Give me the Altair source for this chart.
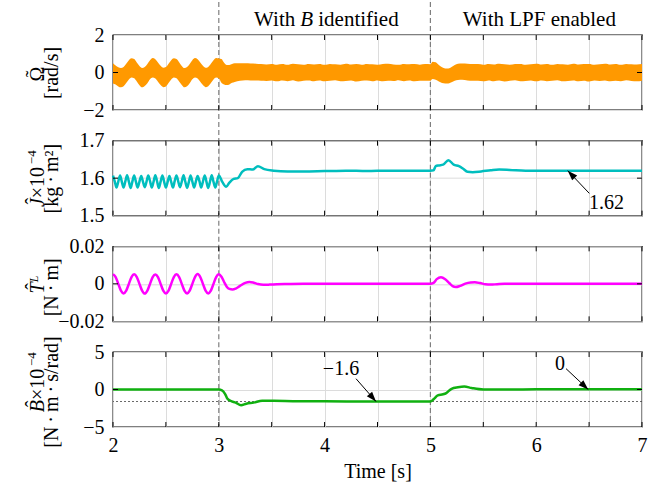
import altair as alt
import pandas as pd

FONT = "Liberation Serif"
W, H = 529, 75

# ---------------------------------------------------------------- data
x_ticks = [2, 2.5, 3, 3.5, 4, 4.5, 5, 5.5, 6, 6.5, 7]
events = [3, 5]

# 0.025 s grid over the initial oscillation (2 s .. 3 s)
t_osc = [2.000, 2.025, 2.050, 2.075, 2.100, 2.125, 2.150, 2.175,
         2.200, 2.225, 2.250, 2.275, 2.300, 2.325, 2.350, 2.375,
         2.400, 2.425, 2.450, 2.475, 2.500, 2.525, 2.550, 2.575,
         2.600, 2.625, 2.650, 2.675, 2.700, 2.725, 2.750, 2.775,
         2.800, 2.825, 2.850, 2.875, 2.900, 2.925, 2.950, 2.975, 3.000]

# speed error: upper / lower envelope of the noisy band [rad/s]
w_hi_osc = [0.50, 0.38, 0.28, 0.24, 0.30, 0.47, 0.66, 0.76,
            0.72, 0.53, 0.35, 0.24, 0.30, 0.46, 0.65, 0.77,
            0.71, 0.54, 0.36, 0.25, 0.29, 0.47, 0.66, 0.76,
            0.72, 0.55, 0.35, 0.24, 0.30, 0.46, 0.66, 0.77,
            0.71, 0.54, 0.36, 0.25, 0.30, 0.47, 0.66, 0.78, 0.75]
w_lo_osc = [-0.58, -0.64, -0.74, -0.79, -0.73, -0.56, -0.37, -0.26,
            -0.31, -0.48, -0.68, -0.79, -0.72, -0.57, -0.36, -0.27,
            -0.32, -0.49, -0.67, -0.78, -0.74, -0.56, -0.37, -0.26,
            -0.31, -0.48, -0.66, -0.79, -0.73, -0.57, -0.36, -0.26,
            -0.32, -0.49, -0.67, -0.78, -0.73, -0.56, -0.37, -0.27, -0.30]

t_w_b = [3.025, 3.050, 3.075, 3.100, 3.125, 3.150, 3.200, 3.250, 3.300, 3.350, 3.400]
w_hi_b = [0.72, 0.52, 0.40, 0.40, 0.45, 0.49, 0.50, 0.49, 0.48, 0.47, 0.45]
w_lo_b = [-0.55, -0.64, -0.67, -0.64, -0.55, -0.50, -0.44, -0.41, -0.42, -0.43, -0.44]

t_w_c = [3.45, 3.50, 3.55, 3.60, 3.65, 3.70, 3.75, 3.80, 3.85, 3.90,
         3.95, 4.00, 4.05, 4.10, 4.15, 4.20, 4.25, 4.30, 4.35, 4.40,
         4.45, 4.50, 4.55, 4.60, 4.65, 4.70, 4.75, 4.80, 4.85, 4.90,
         4.95]
w_hi_c = [0.43, 0.46, 0.42, 0.45, 0.41, 0.47, 0.44, 0.42, 0.46, 0.43,
          0.45, 0.41, 0.46, 0.44, 0.42, 0.47, 0.43, 0.45, 0.42, 0.46,
          0.44, 0.41, 0.45, 0.47, 0.43, 0.42, 0.46, 0.44, 0.45, 0.42,
          0.45]
w_lo_c = [-0.45, -0.42, -0.47, -0.43, -0.46, -0.41, -0.48, -0.44, -0.42, -0.46,
          -0.43, -0.47, -0.44, -0.41, -0.46, -0.45, -0.42, -0.48, -0.44, -0.43,
          -0.46, -0.42, -0.47, -0.44, -0.45, -0.41, -0.46, -0.43, -0.47, -0.44,
          -0.44]

t_w_d = [5.000, 5.020, 5.050, 5.080, 5.110, 5.140, 5.170, 5.200, 5.230, 5.260, 5.300, 5.350, 5.400]
w_hi_d = [0.44, 0.58, 0.55, 0.40, 0.28, 0.22, 0.22, 0.30, 0.40, 0.47, 0.48, 0.47, 0.45]
w_lo_d = [-0.44, -0.35, -0.38, -0.48, -0.56, -0.58, -0.58, -0.52, -0.44, -0.40, -0.39, -0.42, -0.44]

t_w_e = [5.45, 5.50, 5.55, 5.60, 5.65, 5.70, 5.75, 5.80, 5.85, 5.90,
         5.95, 6.00, 6.05, 6.10, 6.15, 6.20, 6.25, 6.30, 6.35, 6.40,
         6.45, 6.50, 6.55, 6.60, 6.65, 6.70, 6.75, 6.80, 6.85, 6.90,
         6.95, 7.00]
w_hi_e = [0.45, 0.42, 0.46, 0.43, 0.47, 0.44, 0.41, 0.45, 0.46, 0.42,
          0.44, 0.47, 0.43, 0.45, 0.41, 0.46, 0.44, 0.42, 0.47, 0.43,
          0.45, 0.46, 0.42, 0.44, 0.47, 0.43, 0.45, 0.41, 0.46, 0.44,
          0.43, 0.45]
w_lo_e = [-0.44, -0.47, -0.42, -0.46, -0.43, -0.48, -0.44, -0.41, -0.46, -0.45,
          -0.42, -0.47, -0.43, -0.46, -0.44, -0.41, -0.47, -0.45, -0.42, -0.46,
          -0.44, -0.48, -0.43, -0.45, -0.42, -0.47, -0.44, -0.46, -0.41, -0.45,
          -0.47, -0.44]

# inertia estimate J x 1e-4 [kg m^2]
t_j_osc = [2.000, 2.017, 2.033, 2.050, 2.067, 2.083, 2.100, 2.117, 2.133, 2.150,
           2.167, 2.183, 2.200, 2.217, 2.233, 2.250, 2.267, 2.283, 2.300, 2.317,
           2.333, 2.350, 2.367, 2.383, 2.400, 2.417, 2.433, 2.450, 2.467, 2.483,
           2.500, 2.517, 2.533, 2.550, 2.567, 2.583, 2.600, 2.617, 2.633, 2.650,
           2.667, 2.683, 2.700, 2.717, 2.733, 2.750, 2.767, 2.783, 2.800, 2.817,
           2.833, 2.850, 2.867, 2.883, 2.900, 2.917, 2.933, 2.950, 2.967, 2.983,
           3.000]
j_osc = [1.607, 1.591, 1.575, 1.591, 1.607, 1.591, 1.575, 1.592, 1.608, 1.591, 1.574, 1.591,
         1.607, 1.590, 1.575, 1.591, 1.606, 1.591, 1.576, 1.591, 1.607, 1.592, 1.575, 1.590,
         1.608, 1.591, 1.574, 1.591, 1.607, 1.591, 1.575, 1.591, 1.606, 1.590, 1.575, 1.592,
         1.607, 1.591, 1.576, 1.591, 1.608, 1.591, 1.574, 1.590, 1.607, 1.591, 1.575, 1.591,
         1.606, 1.592, 1.575, 1.591, 1.607, 1.591, 1.574, 1.591, 1.608, 1.590, 1.575, 1.591,
         1.607]
t_j_rest = [3.033, 3.07, 3.10, 3.14, 3.18, 3.22, 3.27, 3.32, 3.37, 3.43,
            3.52, 3.65, 3.80, 4.00, 4.20, 4.40, 4.60, 4.80, 5.00, 5.03,
            5.05, 5.08, 5.12, 5.17, 5.22, 5.27, 5.31, 5.35, 5.40, 5.48,
            5.57, 5.65, 5.75, 5.90, 6.10, 6.30, 6.50, 6.70, 7.00]
j_rest = [1.590, 1.577, 1.588, 1.598, 1.600, 1.617, 1.624, 1.623, 1.632, 1.624,
          1.620, 1.618, 1.618, 1.619, 1.620, 1.619, 1.620, 1.620, 1.620, 1.621,
          1.632, 1.634, 1.636, 1.648, 1.636, 1.632, 1.625, 1.617, 1.616, 1.618,
          1.621, 1.623, 1.622, 1.620, 1.620, 1.620, 1.620, 1.620, 1.620]
j_final = 1.62

# load torque estimate [N m]
tl_osc = [0.0051, 0.0036, 0.0000, -0.0036, -0.0051, -0.0036, 0.0000, 0.0036,
          0.0051, 0.0036, 0.0000, -0.0036, -0.0052, -0.0036, 0.0000, 0.0036,
          0.0050, 0.0036, 0.0000, -0.0036, -0.0051, -0.0036, 0.0000, 0.0036,
          0.0051, 0.0036, 0.0000, -0.0036, -0.0051, -0.0036, 0.0000, 0.0036,
          0.0052, 0.0036, 0.0000, -0.0036, -0.0051, -0.0036, 0.0000, 0.0036,
          0.0051]
t_tl_rest = [3.025, 3.05, 3.075, 3.1, 3.13, 3.16, 3.2, 3.25, 3.29, 3.33,
             3.37, 3.42, 3.48, 3.55, 3.65, 3.8, 4.0, 4.5, 5.0, 5.03,
             5.06, 5.1, 5.14, 5.18, 5.21, 5.24, 5.28, 5.33, 5.38, 5.42,
             5.47, 5.52, 5.57, 5.63, 5.7, 6.0, 6.5, 7.0]
tl_rest = [0.0038, 0.0010, -0.0015, -0.0027, -0.0030, -0.0025, -0.0011, 0.0005, 0.0010, 0.0006,
           -0.0001, -0.0005, -0.0004, -0.0002, -0.0001, 0.0, 0.0, 0.0, 0.0, 0.0005,
           0.0025, 0.0035, 0.0025, 0.0003, -0.0012, -0.0017, -0.0011, 0.0001, 0.0007, 0.0008,
           0.0004, -0.0002, -0.0004, -0.0002, 0.0, 0.0, 0.0, 0.0]

# friction estimate B x 1e-4 [N m s/rad]
t_b = [2.0, 2.5, 3.0, 3.03, 3.06, 3.08, 3.11, 3.16, 3.21, 3.26,
       3.33, 3.41, 3.52, 3.7, 4.0, 4.5, 5.0, 5.03, 5.07, 5.12,
       5.15, 5.2, 5.26, 5.32, 5.39, 5.5, 5.7, 6.0, 6.5, 7.0]
b_val = [0.0, 0.0, 0.0, -0.1, -0.6, -1.2, -1.5, -1.75, -2.1, -1.9,
         -1.75, -1.5, -1.5, -1.55, -1.58, -1.6, -1.6, -1.3, -0.78, -0.64,
         -0.47, 0.1, 0.3, 0.4, 0.2, 0.0, 0.0, 0.02, 0.03, 0.03]
b_ref = -1.6
b_final = 0

# ---------------------------------------------------------------- helpers
xs = alt.Scale(domain=[2, 7], nice=False, zero=False)


def x_axis(bottom):
    if bottom:
        return alt.Axis(values=x_ticks, format="~g",
                        labelExpr="datum.value % 1 === 0 ? datum.label : ''",
                        title="Time [s]", labelFlush=False, labelOverlap=False,
                        labelPadding=8, titlePadding=6)
    return alt.Axis(values=x_ticks, labels=False, title=None)


def y_axis(vals):
    return alt.Axis(values=vals, format="~g", title=None, labelPadding=9,
                    labelOverlap=False)


def fmt(v):
    return f"{v:g}".replace("-", "\u2212")


class Panel:
    """Collects the layers of one strip; every layer shares the same axes."""

    def __init__(self, ys, yvals, bottom):
        self.ys = ys
        self.xa = x_axis(bottom)
        self.ya = y_axis(yvals)
        self.layers = []

    def X(self, f):
        return alt.X(f, type="quantitative", scale=xs, axis=self.xa)

    def Y(self, f):
        return alt.Y(f, type="quantitative", scale=self.ys, axis=self.ya)

    def add(self, *ls):
        self.layers.extend(ls)

    def frame(self, rule_top, rule_bottom):
        self.add(alt.Chart(pd.DataFrame({"t": events})).mark_rule(
            color="#7f7f7f", strokeDash=[5, 3], strokeWidth=1.2
        ).encode(x=self.X("t"), y=alt.value(rule_top), y2=alt.value(rule_bottom)))

    def ticks(self, mid):
        tdf = pd.DataFrame({"t": x_ticks})
        tick = dict(color="black", strokeWidth=1)
        self.add(
            alt.Chart(tdf).mark_rule(**tick).encode(x=self.X("t"), y=alt.value(0), y2=alt.value(5)),
            alt.Chart(tdf).mark_rule(**tick).encode(x=self.X("t"), y=alt.value(H), y2=alt.value(H - 5)),
        )
        mdf = pd.DataFrame({"v": [mid]})
        self.add(
            alt.Chart(mdf).mark_rule(**tick).encode(y=self.Y("v"), x=alt.value(0), x2=alt.value(5)),
            alt.Chart(mdf).mark_rule(**tick).encode(y=self.Y("v"), x=alt.value(W), x2=alt.value(W - 5)),
        )

    def vtext(self, s, x, y, size=20, style="normal", align="center", dx=0, dy=0):
        self.add(alt.Chart(pd.DataFrame({"s": [s]})).mark_text(
            font=FONT, fontSize=size, fontStyle=style, align=align,
            baseline="alphabetic", angle=270, dx=dx, dy=dy, color="black"
        ).encode(x=alt.value(x), y=alt.value(y), text="s:N"))

    def note(self, s, t, v=None, size=20, style="normal", align="center", dx=0, ypix=None):
        enc = dict(x=self.X("t"), text="s:N")
        enc["y"] = alt.value(ypix) if ypix is not None else self.Y("v")
        self.add(alt.Chart(pd.DataFrame({"s": [s], "t": [t], "v": [v if v is not None else 0]})).mark_text(
            font=FONT, fontSize=size, fontStyle=style, align=align,
            baseline="alphabetic", dx=dx, color="black"
        ).encode(**enc))

    def arrow(self, tail, tip, angle):
        df = pd.DataFrame({"t": [tail[0]], "v": [tail[1]], "t2": [tip[0]], "v2": [tip[1]]})
        self.add(
            alt.Chart(df).mark_rule(color="black", strokeWidth=1).encode(
                x=self.X("t"), y=self.Y("v"), x2="t2:Q", y2="v2:Q"),
            alt.Chart(df).mark_point(
                shape="M0,0L0.7,2L-0.7,2Z", filled=True, size=100, color="black",
                opacity=1, strokeWidth=0, angle=angle
            ).encode(x=self.X("t2"), y=self.Y("v2")),
        )

    def chart(self):
        return alt.layer(*self.layers).properties(width=W, height=H)


# ---------------------------------------------------------------- panel 1: speed error
P1 = Panel(alt.Scale(domain=[-2, 2], nice=False, zero=False), [-2, 0, 2], False)
P1.frame(-33, H + 31)
w_df = pd.DataFrame({
    "t": t_osc + t_w_b + t_w_c + t_w_d + t_w_e,
    "hi": w_hi_osc + w_hi_b + w_hi_c + w_hi_d + w_hi_e,
    "lo": w_lo_osc + w_lo_b + w_lo_c + w_lo_d + w_lo_e,
})
P1.add(alt.Chart(w_df).mark_area(color="#FF9900", opacity=1, interpolate="monotone").encode(
    x=P1.X("t"), y=P1.Y("hi"), y2="lo:Q"))
P1.ticks(0)
P1.vtext("\u03a9", -69, 39)
P1.vtext("\u02dc", -69, 39, size=20, dy=-4)
P1.vtext("[rad/s]", -55, 38)
P1.note("With", 3.831, size=21, align="right", dx=-11.5, ypix=-9)
P1.note("B", 3.831, size=21, style="italic", ypix=-9)
P1.note("identified", 3.831, size=21, align="left", dx=11.5, ypix=-9)
P1.note("With LPF enabled", 6.03, size=21, ypix=-9)

# ---------------------------------------------------------------- panel 2: inertia
P2 = Panel(alt.Scale(domain=[1.5, 1.7], nice=False, zero=False), [1.5, 1.6, 1.7], False)
P2.frame(0, H + 31)
j_df = pd.DataFrame({"t": t_j_osc + t_j_rest, "v": j_osc + j_rest})
P2.add(alt.Chart(j_df).mark_line(color="#00BEBE", strokeWidth=2.5, interpolate="monotone").encode(
    x=P2.X("t"), y=P2.Y("v")))
P2.ticks(1.6)
P2.arrow((6.502, 1.5595), (6.298, j_final), 316)
P2.note(fmt(j_final), 6.664, 1.518)
P2.vtext("J", -69, 57.5, style="italic", align="right")
P2.vtext("\u02c6", -69, 57.5, size=20, align="center", dx=-3, dy=-4)
P2.vtext(" \u00d710", -69, 57.5, align="left")
P2.vtext("\u22124", -69, 57.5, size=13, align="left", dx=34, dy=-8)
P2.vtext("[kg\u2009\u00b7\u2009m\u00b2]", -55, 38)

# ---------------------------------------------------------------- panel 3: load torque
P3 = Panel(alt.Scale(domain=[-0.02, 0.02], nice=False, zero=False), [-0.02, 0, 0.02], False)
P3.frame(0, H + 31)
tl_df = pd.DataFrame({"t": t_osc + t_tl_rest, "v": tl_osc + tl_rest})
P3.add(alt.Chart(tl_df).mark_line(color="#FF00FF", strokeWidth=2.5, interpolate="monotone").encode(
    x=P3.X("t"), y=P3.Y("v")))
P3.ticks(0)
P3.vtext("T", -69, 36, style="italic", align="right")
P3.vtext("\u02c6", -69, 36, size=20, align="center", dx=-4, dy=-4)
P3.vtext("L", -69, 36, size=12, style="italic", align="left", dy=-6)
P3.vtext("[N\u2009\u00b7\u2009m]", -55, 41)

# ---------------------------------------------------------------- panel 4: friction
P4 = Panel(alt.Scale(domain=[-5, 5], nice=False, zero=False), [-5, 0, 5], True)
P4.frame(0, H)
P4.add(alt.Chart(pd.DataFrame({"v": [b_ref]})).mark_rule(
    color="#444444", strokeDash=[2, 2], strokeWidth=0.8).encode(y=P4.Y("v")))
b_df = pd.DataFrame({"t": t_b, "v": b_val})
P4.add(alt.Chart(b_df).mark_line(color="#10B010", strokeWidth=2.5, interpolate="monotone").encode(
    x=P4.X("t"), y=P4.Y("v")))
P4.ticks(0)
P4.arrow((4.297, 1.44), (4.486, b_ref), 139)
P4.note(fmt(b_ref), 4.155, 1.93)
P4.arrow((6.282, 2.78), (6.492, b_final), 133)
P4.note(fmt(b_final), 6.225, 2.6)
P4.vtext("B", -69, 48, style="italic", align="right")
P4.vtext("\u02c6", -69, 48, size=20, align="center", dx=-4, dy=-4)
P4.vtext(" \u00d710", -69, 48, align="left")
P4.vtext("\u22124", -69, 48, size=13, align="left", dx=34, dy=-8)
P4.vtext("[N\u2009\u00b7\u2009m\u2009\u00b7\u2009s/rad]", -55, 40)

chart = alt.vconcat(P1.chart(), P2.chart(), P3.chart(), P4.chart(),
                    spacing=30.67, bounds="flush").properties(
    padding={"left": 23, "top": 0, "right": 5, "bottom": 5}
).configure_view(
    stroke="black", strokeWidth=1.3
).configure_axis(
    labelFont=FONT, labelFontSize=20, labelColor="black",
    titleFont=FONT, titleFontSize=20, titleColor="black", titleFontWeight="normal",
    gridColor="#dcdcdc", gridWidth=1, domain=False, ticks=False,
)

chart.save("out.html", embed_options={"renderer": "svg", "actions": False})
